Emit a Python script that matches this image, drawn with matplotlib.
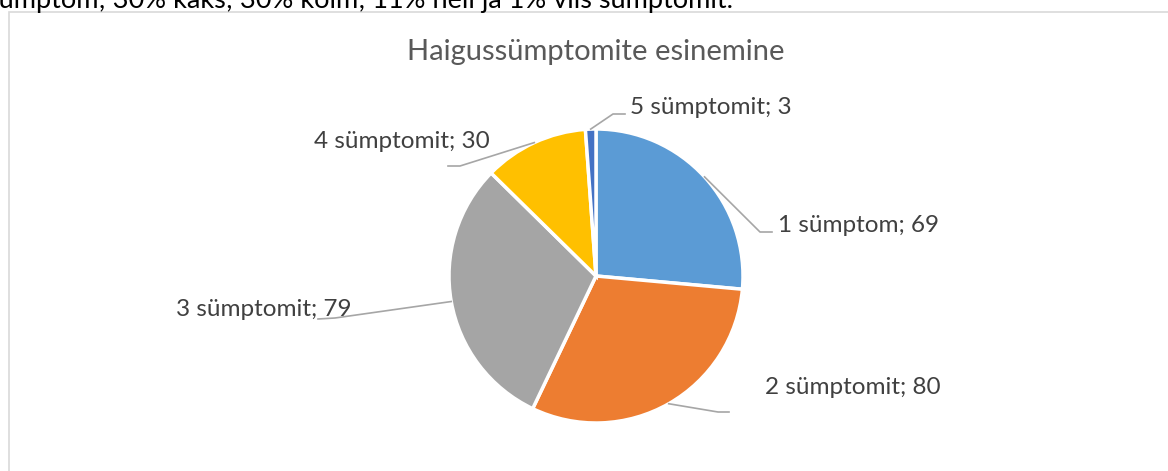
import numpy as np
import matplotlib
matplotlib.use('Agg')
from matplotlib import pyplot as plt
from matplotlib.patches import Rectangle

# data
labels = ['1 sümptom', '2 sümptomit', '3 sümptomit', '4 sümptomit', '5 sümptomit']
counts = [69, 80, 79, 30, 3]
colors = ['#5B9BD5', '#ED7D31', '#A5A5A5', '#FFC000', '#4472C4']
title = 'Haigussümptomite esinemine'
top_text = 'sümptom; 30% kaks; 30% kolm; 11% neli ja 1% viis sümptomit.'

# layout in pixel units (y measured from the top of the image)
W, H = 1168, 471
center = (596, 276)
radius = 147
# text anchor (x, y, ha) and leader-line elbow points for each label
label_pos = [(778, 226, 'left'), (765, 388, 'left'), (352, 310, 'right'),
             (490, 142, 'right'), (630, 108, 'left')]
elbows = [[(760, 232), (772, 232)],
          [(718, 412), (729, 412)],
          [(335, 318), (318, 319)],
          [(460, 166), (448, 166)],
          [(613, 114), (625, 114)]]

plt.rcParams['font.family'] = ['Lato', 'DejaVu Sans']

fig = plt.figure(figsize=(W / 100, H / 100), dpi=100)
ax = fig.add_axes([0, 0, 1, 1])

def fy(y):
  return H - y

wedges, _ = ax.pie(counts, colors=colors, startangle=90, counterclock=False,
                   center=(center[0], fy(center[1])), radius=radius,
                   wedgeprops=dict(edgecolor='white', linewidth=2.5))

# pie() resets the limits, so set them afterwards
ax.set_xlim(0, W)
ax.set_ylim(0, H)
ax.set_aspect('equal')
ax.axis('off')

# chart frame
ax.add_patch(Rectangle((9, -5), W, fy(12) + 5, fill=False, ec='#D9D9D9', lw=1.2))

# document text above the chart (only its lower part is in the picture)
ax.text(-13, fy(8), top_text, fontsize=19.5, color='black', ha='left', va='baseline')

ax.text(center[0], fy(52), title, fontsize=21, color='#595959', ha='center', va='center')

for w, lab, val, (tx, ty, ha), el in zip(wedges, labels, counts, label_pos, elbows):
  mid = np.deg2rad((w.theta1 + w.theta2) / 2)
  x0 = center[0] + radius * np.cos(mid)
  y0 = fy(center[1]) + radius * np.sin(mid)
  xs = [x0] + [p[0] for p in el]
  ys = [y0] + [fy(p[1]) for p in el]
  ax.plot(xs, ys, color='#A6A6A6', lw=1.2, zorder=1)
  ax.text(tx, fy(ty), '{}; {}'.format(lab, val), fontsize=17.5, color='#404040',
          ha=ha, va='center', zorder=3)

fig.savefig('out.png', dpi=100)
